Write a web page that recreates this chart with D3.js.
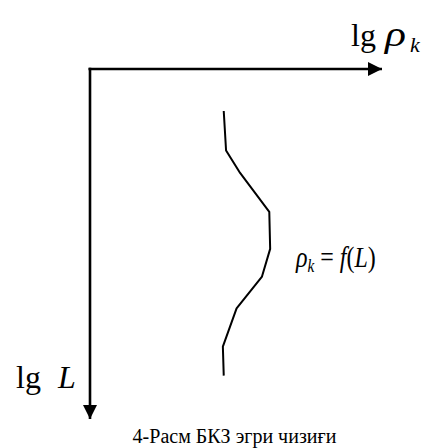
<!DOCTYPE html>
<html>
<head>
<meta charset="utf-8">
<script src="https://cdn.jsdelivr.net/npm/d3@7/dist/d3.min.js"></script>
<style>
  html, body { margin: 0; padding: 0; background: #fff; }
  svg { display: block; }
</style>
</head>
<body>
<svg id="chart" width="430" height="448"></svg>
<script>
// Schematic БКЗ curve: apparent resistivity versus probe length (arbitrary units 0–100)
const lgRho = [45.8, 46.6, 51.4, 61.4, 61.7, 58.9, 50.2, 45.5, 45.8];
const lgL   = [12.0, 23.3, 29.7, 40.8, 51.4, 59.3, 68.4, 79.3, 87.6];

const axisMax = 100;
const logPrefix = "lg";
const xSymbol = "ρ";
const xSub = "k";
const ySymbol = "L";
const caption = "4-Расм БКЗ эгри чизиғи";

const serif = "Liberation Serif";
const svg = d3.select("#chart");

// Origin in the upper-left; lg ρk grows to the right, lg L grows downward
const x = d3.scaleLinear().domain([0, axisMax]).range([90, 382]);
const y = d3.scaleLinear().domain([0, axisMax]).range([69, 419]);

// Arrowhead marker
const defs = svg.append("defs");
defs.append("marker")
  .attr("id", "arrow")
  .attr("viewBox", "0 0 10 10")
  .attr("refX", 10).attr("refY", 5)
  .attr("markerUnits", "userSpaceOnUse")
  .attr("markerWidth", 14).attr("markerHeight", 15)
  .attr("orient", "auto")
  .append("path")
  .attr("d", "M0,0 L10,5 L0,10 Z")
  .attr("fill", "#000");

// Horizontal axis (lg ρk)
svg.append("line")
  .attr("x1", x(0) - 1.5).attr("y1", y(0))
  .attr("x2", x(axisMax)).attr("y2", y(0))
  .attr("stroke", "#000").attr("stroke-width", 2.6)
  .attr("marker-end", "url(#arrow)");

// Vertical axis (lg L)
svg.append("line")
  .attr("x1", x(0)).attr("y1", y(0) - 1.3)
  .attr("x2", x(0)).attr("y2", y(axisMax))
  .attr("stroke", "#000").attr("stroke-width", 2.6)
  .attr("marker-end", "url(#arrow)");

// Curve
const pts = lgRho.map((v, i) => [v, lgL[i]]);
svg.append("path")
  .datum(pts)
  .attr("d", d3.line().x(d => x(d[0])).y(d => y(d[1])))
  .attr("fill", "none")
  .attr("stroke", "#000")
  .attr("stroke-width", 2)
  .attr("stroke-linejoin", "round");

// Axis title: lg ρk (wide math-style rho)
svg.append("text")
  .attr("x", 351).attr("y", 46)
  .attr("font-family", serif).attr("font-size", 32).attr("fill", "#000")
  .text(logPrefix);
svg.append("text")
  .attr("transform", "translate(385,46) scale(1.25,1)")
  .attr("font-family", serif).attr("font-size", 35).attr("font-style", "italic")
  .attr("fill", "#000")
  .text(xSymbol);
svg.append("text")
  .attr("x", 410).attr("y", 52)
  .attr("font-family", serif).attr("font-size", 22).attr("font-style", "italic")
  .attr("fill", "#000")
  .text(xSub);

// Axis title: lg L
svg.append("text")
  .attr("x", 16).attr("y", 388)
  .attr("font-family", serif).attr("font-size", 32).attr("fill", "#000")
  .text(logPrefix);
svg.append("text")
  .attr("x", 58).attr("y", 388)
  .attr("font-family", serif).attr("font-size", 32).attr("font-style", "italic")
  .attr("fill", "#000")
  .text(ySymbol);

// Curve label: ρk = f(L)
const lbl = svg.append("g").attr("transform", "translate(296,267) scale(0.8,1)");
const lt = lbl.append("text")
  .attr("font-family", serif).attr("font-size", 30).attr("fill", "#000")
  .attr("font-style", "italic");
lt.append("tspan").text(xSymbol);
lt.append("tspan").attr("font-size", 19).attr("dy", 5).text(xSub);
lt.append("tspan").attr("dy", -5).attr("font-style", "normal").text(" = ");
lt.append("tspan").text("f");
lt.append("tspan").attr("font-style", "normal").text("(");
lt.append("tspan").text(ySymbol);
lt.append("tspan").attr("font-style", "normal").text(")");

// Caption
svg.append("text")
  .attr("x", 234.5).attr("y", 443)
  .attr("text-anchor", "middle")
  .attr("font-family", serif).attr("font-size", 20).attr("fill", "#000")
  .text(caption);
</script>
</body>
</html>
